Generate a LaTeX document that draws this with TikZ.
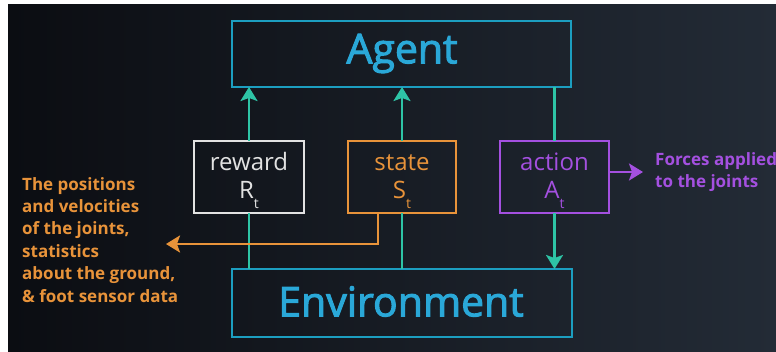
\documentclass[tikz,border=0pt]{standalone}
\usepackage{fontspec}
\setmainfont{Open Sans}
\newfontfamily\headfont[FakeBold=2.4]{Open Sans}
\usetikzlibrary{arrows.meta}

\definecolor{bgL}{HTML}{0B0D12}
\definecolor{bgR}{HTML}{232B36}
\definecolor{frame}{HTML}{1C9EC0}
\definecolor{headtxt}{HTML}{2AA8D8}
\definecolor{flow}{HTML}{2EC4A6}
\definecolor{rwd}{HTML}{E2E2E2}
\definecolor{st}{HTML}{E8933A}
\definecolor{act}{HTML}{A450E0}

\newcommand{\subt}{\raisebox{-0.45em}{\fontsize{14}{14}\selectfont t}}

\begin{document}
\begin{tikzpicture}[x=1pt,y=-1pt,
  box/.style={draw=#1,line width=2.5pt,inner sep=0pt,outer sep=0pt,fill=none},
  headlabel/.style={text=headtxt,font=\headfont\fontsize{41}{48}\selectfont,inner sep=0pt},
  lbl/.style={text=#1,font=\fontsize{24}{28}\selectfont,inner sep=0pt},
  flowline/.style={draw=flow,line width=2.5pt},
  tip/.style={-{Stealth[length=14pt,width=17pt,inset=3pt]}},
  note/.style={text=#1,font=\bfseries\fontsize{17}{22.4}\selectfont,align=left,inner sep=0pt}
]
\useasboundingbox (0,0) rectangle (776,351);
\fill[white] (0,0) rectangle (776,351);
\shade[left color=bgL,right color=bgR] (8,4) rectangle (776,351);

% main blocks
\node[box=frame,minimum width=339pt,minimum height=66pt] (agent) at (401.5,54) {};
\node[box=frame,minimum width=340pt,minimum height=68pt] (env) at (402,303) {};
\node[headlabel] (agenttxt) at (402,53.5) {Agent};
\node[headlabel] (envtxt) at (401,301.5) {Environment};

% signal boxes
\node[box=rwd,minimum width=110pt,minimum height=72pt] (reward) at (249,177) {};
\node[box=st,minimum width=108pt,minimum height=72pt] (state) at (402,177) {};
\node[box=act,minimum width=109pt,minimum height=72pt] (action) at (554.5,177) {};

\node[lbl=rwd,anchor=base] (rw1) at (249,170) {reward};
\node[lbl=rwd,anchor=base] (rw2) at (249,198) {R\subt};
\node[lbl=st,anchor=base] (st1) at (402,170) {state};
\node[lbl=st,anchor=base] (st2) at (402,198) {S\subt};
\node[lbl=act,anchor=base] (ac1) at (554.5,170) {action};
\node[lbl=act,anchor=base] (ac2) at (554.5,198) {A\subt};

% loop connectors
\draw[flowline] (reward.south |- env.north) -- (reward.south);
\draw[flowline,tip] (reward.north) -- (reward.north |- agent.south);
\draw[flowline] (state.south |- env.north) -- (state.south);
\draw[flowline,tip] (state.north) -- (state.north |- agent.south);
\draw[flowline] (action.north |- agent.south) -- (action.north);
\draw[flowline,tip] (action.south) -- (action.south |- env.north);

% side notes
\coordinate (statetip) at (166,244);
\coordinate (acttip) at (643,172);
\draw[draw=st,line width=2.5pt,tip,color=st] ([xshift=-24pt]state.south) |- (statetip);
\draw[draw=act,line width=2.5pt,tip,color=act] (action.east |- acttip) -- (acttip);

\node[note=st,anchor=north west] (obs) at (22,177) {The positions\\and velocities\\of the joints,\\statistics\\about the ground,\\\& foot sensor data};
\node[note=act,anchor=north west] (forces) at (655,152) {Forces applied\\to the joints};
\end{tikzpicture}
\end{document}
